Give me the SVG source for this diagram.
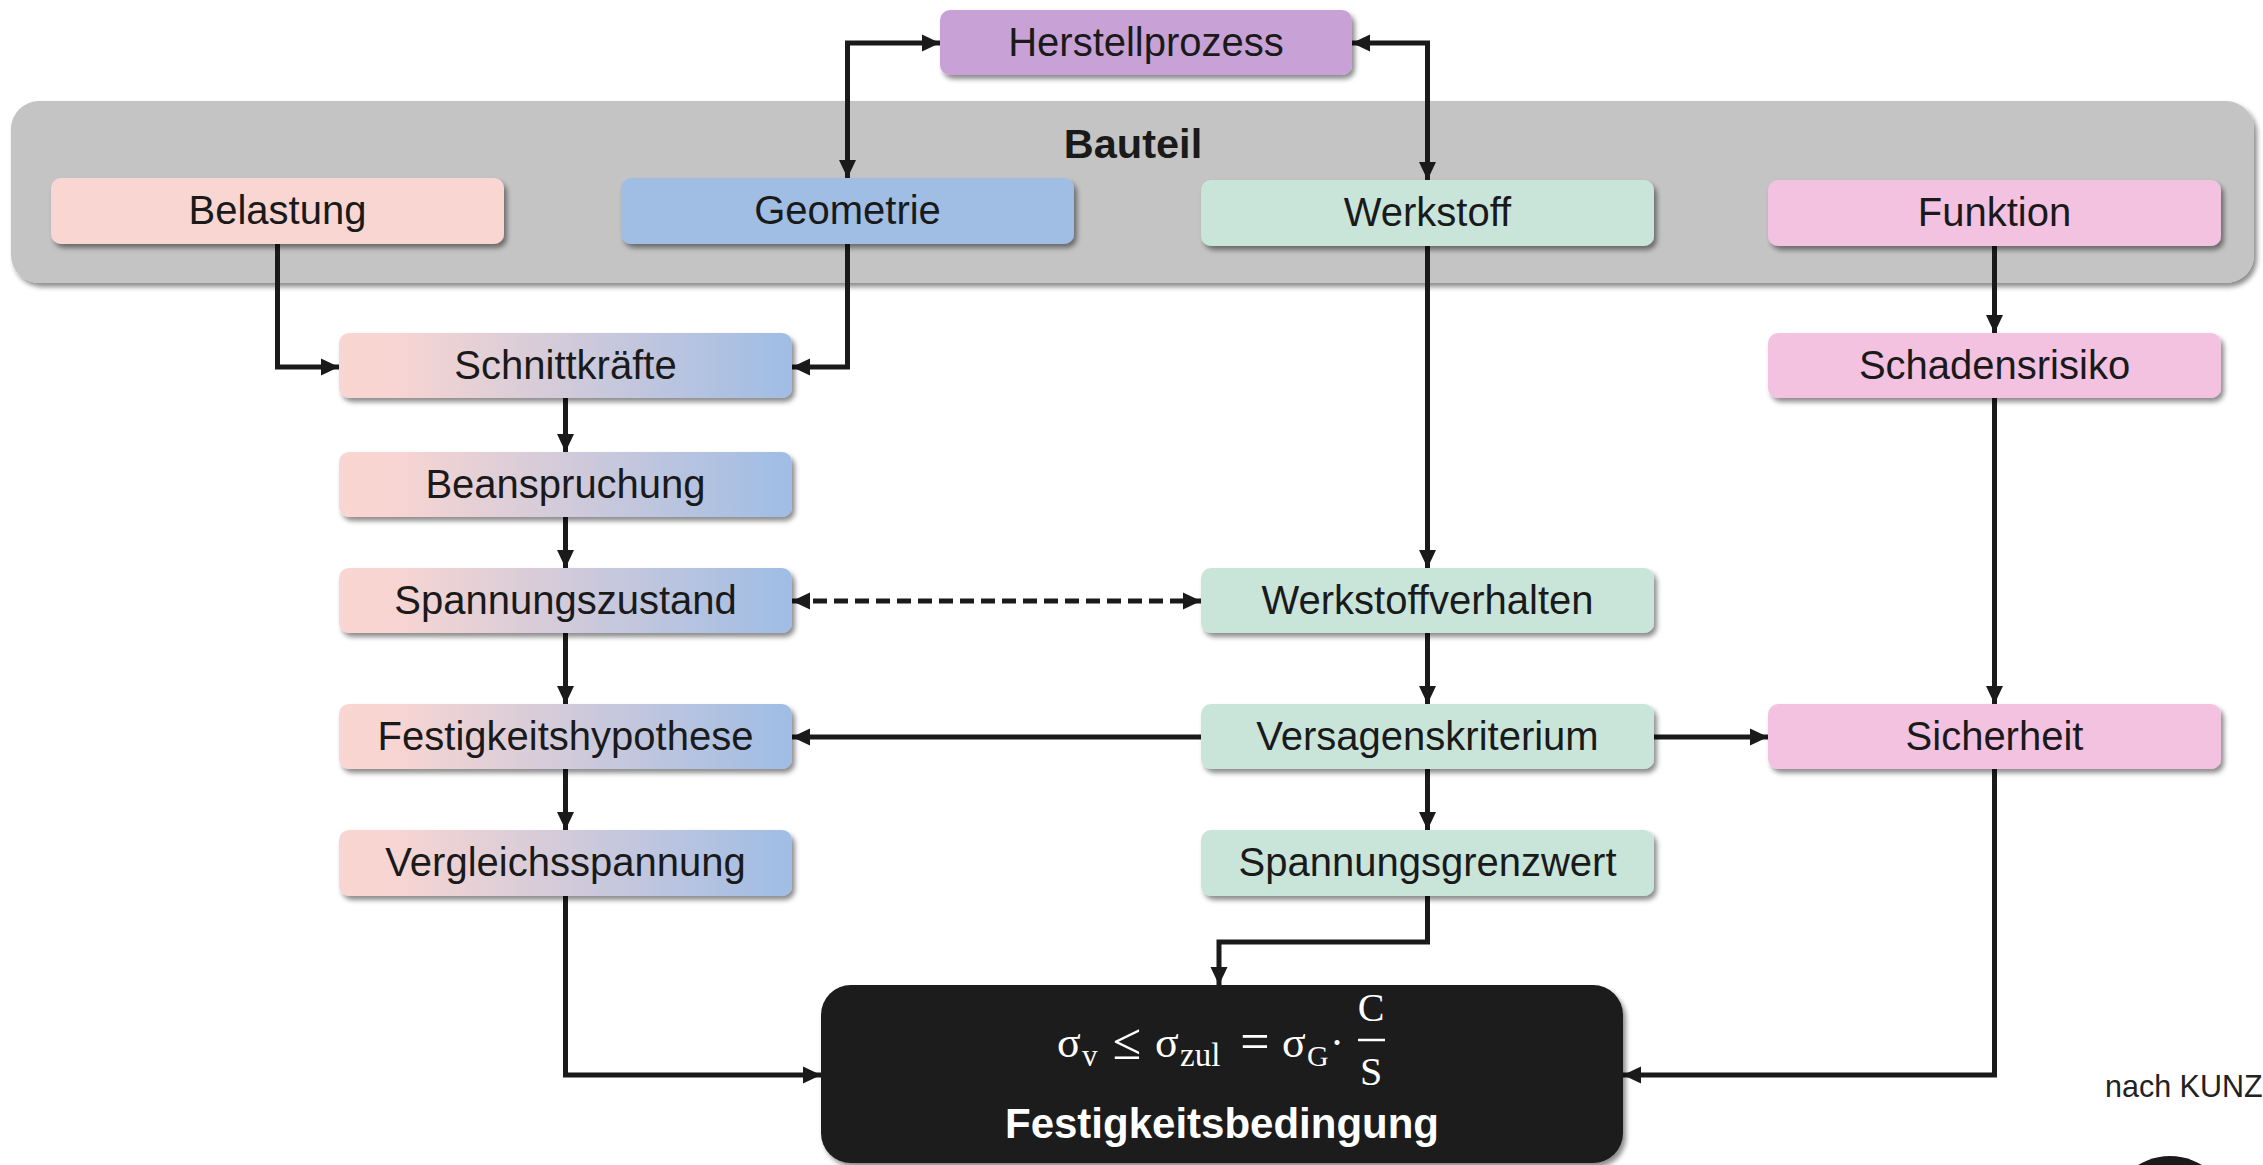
<svg xmlns="http://www.w3.org/2000/svg" width="2263" height="1165" viewBox="0 0 2263 1165">
  <defs>
    <filter id="shadow" x="-5%" y="-20%" width="115%" height="160%">
      <feDropShadow dx="3" dy="4" stdDeviation="2.5" flood-color="#000" flood-opacity="0.45"/>
    </filter>
    <linearGradient id="mix" x1="0" y1="0" x2="1" y2="0">
      <stop offset="0" stop-color="#F9D6D1"/>
      <stop offset="0.12" stop-color="#F8D5D2"/>
      <stop offset="1" stop-color="#9FBDE5"/>
    </linearGradient>
    <marker id="arrow" markerUnits="userSpaceOnUse" markerWidth="19" markerHeight="18" refX="18" refY="9" orient="auto-start-reverse">
      <path d="M0,0.5 L18,9 L0,17.5 z" fill="#1a1a1a"/>
    </marker>
  </defs>
  <style>
    .box { filter: url(#shadow); }
    .lbl { font-family: "Liberation Sans", Arial, sans-serif; font-size: 40px; fill: #1a1a1a; text-anchor: middle; }
    .conn { fill: none; stroke: #1a1a1a; stroke-width: 5; }
    .math { font-family: "Liberation Serif", "DejaVu Serif", serif; fill: #ffffff; }
  </style>

  <rect width="2263" height="1165" fill="#ffffff"/>

  <!-- component container -->
  <g id="bauteil">
    <rect x="11" y="101" width="2243" height="182" rx="28" fill="#C4C4C4" class="box"/>
    <text x="1133" y="158" class="lbl" style="font-weight:bold;font-size:41.5px">Bauteil</text>
  </g>

  <!-- connectors -->
  <g id="connectors">
    <path class="conn" d="M847.5,178 V43 H940" marker-start="url(#arrow)" marker-end="url(#arrow)"/>
    <path class="conn" d="M1427.5,180 V43 H1352" marker-start="url(#arrow)" marker-end="url(#arrow)"/>
    <path class="conn" d="M277.5,244 V367 H339" marker-end="url(#arrow)"/>
    <path class="conn" d="M847.5,244 V367 H792" marker-end="url(#arrow)"/>
    <path class="conn" d="M565.5,398 V452" marker-end="url(#arrow)"/>
    <path class="conn" d="M565.5,517 V568" marker-end="url(#arrow)"/>
    <path class="conn" d="M565.5,633 V704" marker-end="url(#arrow)"/>
    <path class="conn" d="M565.5,769 V830" marker-end="url(#arrow)"/>
    <path class="conn" d="M565.5,896 V1075 H821" marker-end="url(#arrow)"/>
    <path class="conn" d="M1427.5,246 V568" marker-end="url(#arrow)"/>
    <path class="conn" d="M1427.5,633 V704" marker-end="url(#arrow)"/>
    <path class="conn" d="M1427.5,769 V830" marker-end="url(#arrow)"/>
    <path class="conn" d="M1427.5,896 V942 H1219 V985" marker-end="url(#arrow)"/>
    <path class="conn" d="M1201,737 H792" marker-end="url(#arrow)"/>
    <path class="conn" d="M1654,737 H1768" marker-end="url(#arrow)"/>
    <path class="conn" d="M792,601 H1201" stroke-dasharray="14 7" marker-start="url(#arrow)" marker-end="url(#arrow)"/>
    <path class="conn" d="M1994.5,246 V333" marker-end="url(#arrow)"/>
    <path class="conn" d="M1994.5,398 V704" marker-end="url(#arrow)"/>
    <path class="conn" d="M1994.5,769 V1075 H1623" marker-end="url(#arrow)"/>
  </g>

  <!-- nodes -->
  <g id="herstellprozess">
    <rect x="940" y="10" width="412" height="65" rx="10" fill="#C8A2D7" class="box"/>
    <text x="1146" y="56" class="lbl">Herstellprozess</text>
  </g>
  <g id="belastung">
    <rect x="51" y="178" width="453" height="66" rx="10" fill="#F9D6D1" class="box"/>
    <text x="277.5" y="224" class="lbl">Belastung</text>
  </g>
  <g id="geometrie">
    <rect x="621" y="178" width="453" height="66" rx="10" fill="#A0BDE4" class="box"/>
    <text x="847.5" y="224" class="lbl">Geometrie</text>
  </g>
  <g id="werkstoff">
    <rect x="1201" y="180" width="453" height="66" rx="10" fill="#C9E5DA" class="box"/>
    <text x="1427.5" y="226" class="lbl">Werkstoff</text>
  </g>
  <g id="funktion">
    <rect x="1768" y="180" width="453" height="66" rx="10" fill="#F4C2E1" class="box"/>
    <text x="1994.5" y="226" class="lbl">Funktion</text>
  </g>
  <g id="schnittkraefte">
    <rect x="339" y="333" width="453" height="65" rx="10" fill="url(#mix)" class="box"/>
    <text x="565.5" y="379" class="lbl">Schnittkräfte</text>
  </g>
  <g id="schadensrisiko">
    <rect x="1768" y="333" width="453" height="65" rx="10" fill="#F4C2E1" class="box"/>
    <text x="1994.5" y="379" class="lbl">Schadensrisiko</text>
  </g>
  <g id="beanspruchung">
    <rect x="339" y="452" width="453" height="65" rx="10" fill="url(#mix)" class="box"/>
    <text x="565.5" y="498" class="lbl">Beanspruchung</text>
  </g>
  <g id="spannungszustand">
    <rect x="339" y="568" width="453" height="65" rx="10" fill="url(#mix)" class="box"/>
    <text x="565.5" y="614" class="lbl">Spannungszustand</text>
  </g>
  <g id="werkstoffverhalten">
    <rect x="1201" y="568" width="453" height="65" rx="10" fill="#C9E5DA" class="box"/>
    <text x="1427.5" y="614" class="lbl">Werkstoffverhalten</text>
  </g>
  <g id="festigkeitshypothese">
    <rect x="339" y="704" width="453" height="65" rx="10" fill="url(#mix)" class="box"/>
    <text x="565.5" y="750" class="lbl">Festigkeitshypothese</text>
  </g>
  <g id="versagenskriterium">
    <rect x="1201" y="704" width="453" height="65" rx="10" fill="#C9E5DA" class="box"/>
    <text x="1427.5" y="750" class="lbl">Versagenskriterium</text>
  </g>
  <g id="sicherheit">
    <rect x="1768" y="704" width="453" height="65" rx="10" fill="#F4C2E1" class="box"/>
    <text x="1994.5" y="750" class="lbl">Sicherheit</text>
  </g>
  <g id="vergleichsspannung">
    <rect x="339" y="830" width="453" height="66" rx="10" fill="url(#mix)" class="box"/>
    <text x="565.5" y="876" class="lbl">Vergleichsspannung</text>
  </g>
  <g id="spannungsgrenzwert">
    <rect x="1201" y="830" width="453" height="66" rx="10" fill="#C9E5DA" class="box"/>
    <text x="1427.5" y="876" class="lbl">Spannungsgrenzwert</text>
  </g>

  <!-- strength condition -->
  <g id="festigkeitsbedingung">
    <rect x="821" y="985" width="802" height="178" rx="30" fill="#1a1a1a" class="box"/>
    <text class="math" x="1057" y="1057" font-size="44">σ</text>
    <text class="math" x="1082" y="1066" font-size="31">v</text>
    <text class="math" x="1127" y="1059" font-size="52" text-anchor="middle">≤</text>
    <text class="math" x="1155" y="1057" font-size="44">σ</text>
    <text class="math" x="1180" y="1066" font-size="33">zul</text>
    <text class="math" x="1255" y="1059" font-size="52" text-anchor="middle">=</text>
    <text class="math" x="1282" y="1057" font-size="44">σ</text>
    <text class="math" x="1307" y="1066" font-size="30">G</text>
    <text class="math" x="1337" y="1057" font-size="42" text-anchor="middle">·</text>
    <text class="math" x="1371" y="1021" font-size="40" text-anchor="middle">C</text>
    <line x1="1358" y1="1040" x2="1385" y2="1040" stroke="#ffffff" stroke-width="2.5"/>
    <text class="math" x="1371" y="1085" font-size="40" text-anchor="middle">S</text>
    <text x="1222" y="1138" class="lbl" style="fill:#ffffff;font-weight:bold;font-size:42px">Festigkeitsbedingung</text>
  </g>

  <!-- source note and emblem -->
  <text x="2105" y="1097" style="font-family:'Liberation Sans', Arial, sans-serif;font-size:30.5px;fill:#222">nach KUNZ</text>
  <circle cx="2170" cy="1217" r="61" fill="#1a1a1a"/>
</svg>
